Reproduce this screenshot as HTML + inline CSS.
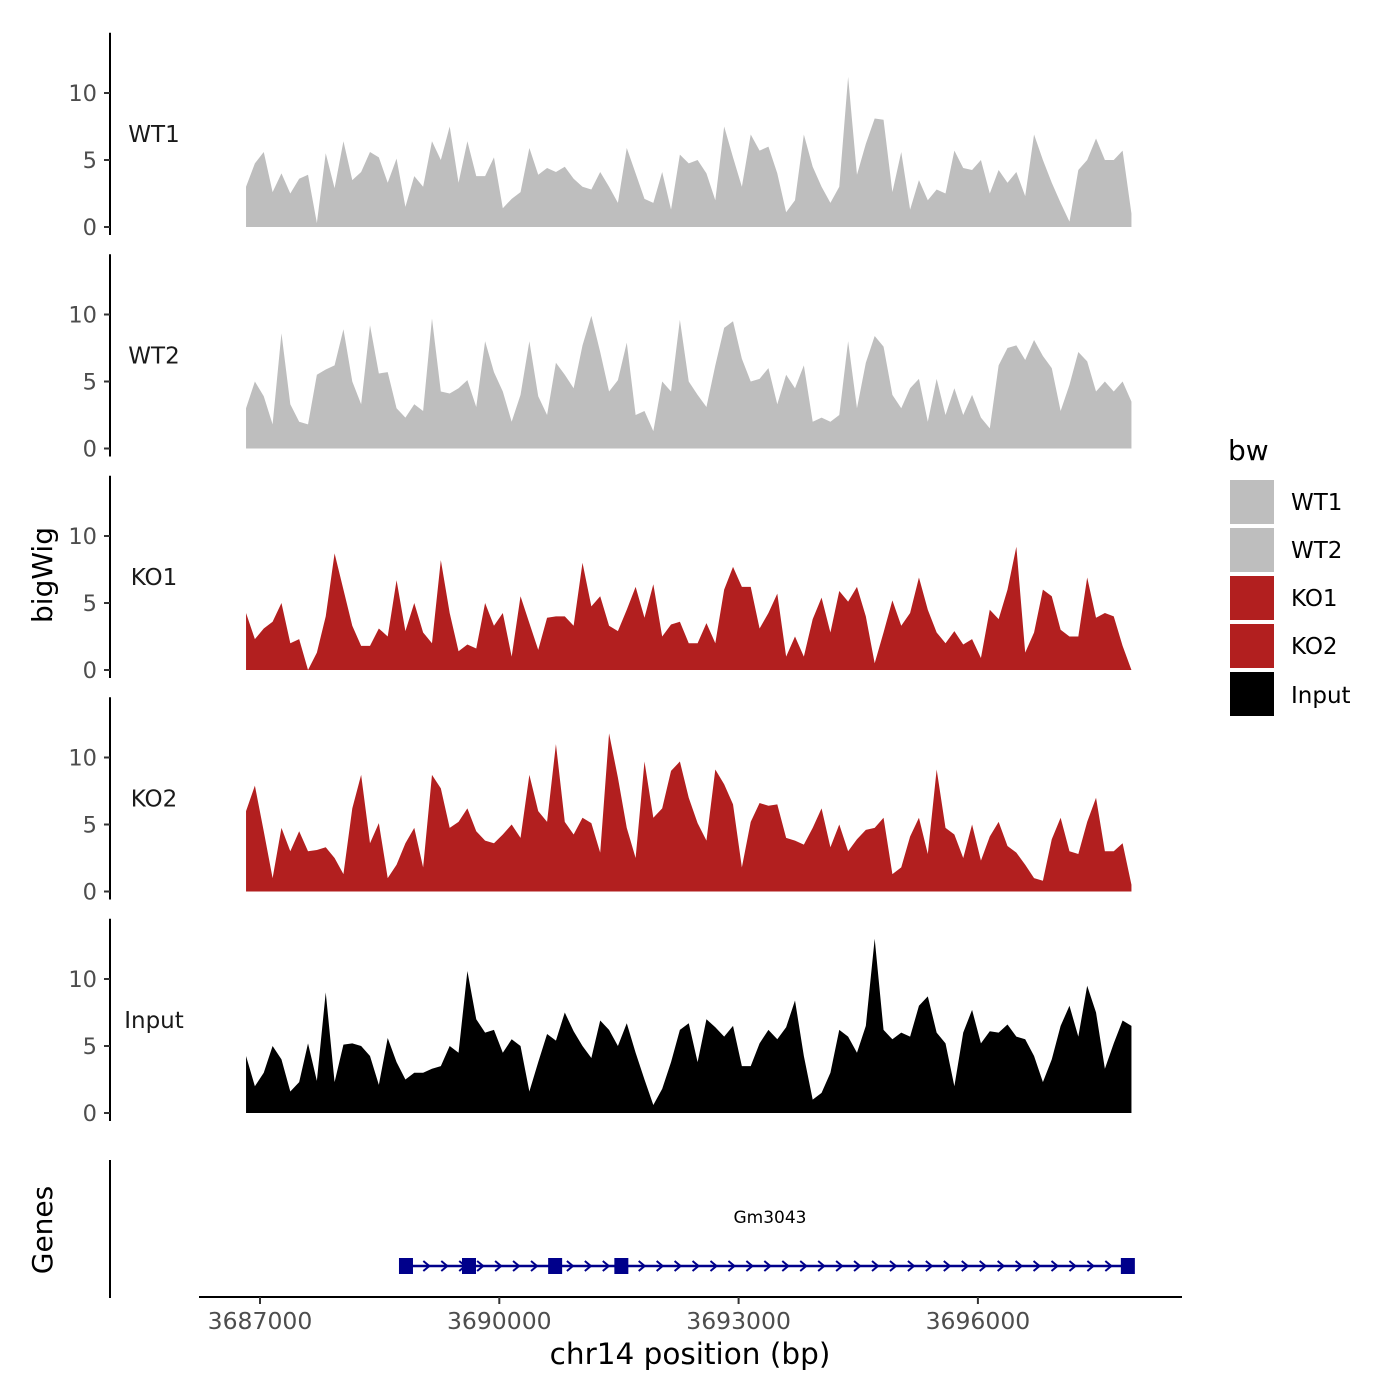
<!DOCTYPE html>
<html><head><meta charset="utf-8"><style>
html,body{margin:0;padding:0;background:#fff;}
svg{display:block;font-family:"DejaVu Sans","Liberation Sans",sans-serif;}
</style></head><body>
<svg id="chart" width="1400" height="1400" viewBox="0 0 1400 1400" xmlns="http://www.w3.org/2000/svg">
<rect width="1400" height="1400" fill="#fff"/>
<g id="tracks"></g>
<g id="genes"></g>
<text x="52" y="575" font-size="28" fill="#000" text-anchor="middle" transform="rotate(-90 52 575)">bigWig</text>
<text x="52" y="1230" font-size="28" fill="#000" text-anchor="middle" transform="rotate(-90 52 1230)">Genes</text>
<text x="690" y="1364" font-size="29.5" fill="#000" text-anchor="middle">chr14 position (bp)</text>
<g>
<text x="1228" y="460" font-size="28" fill="#000">bw</text>
<g><rect x="1230" y="480" width="44" height="44" fill="#bebebe"/><text x="1291" y="510" font-size="23">WT1</text></g>
<g><rect x="1230" y="528" width="44" height="44" fill="#bebebe"/><text x="1291" y="558" font-size="23">WT2</text></g>
<g><rect x="1230" y="576" width="44" height="44" fill="#b21f1f"/><text x="1291" y="606" font-size="23">KO1</text></g>
<g><rect x="1230" y="624" width="44" height="44" fill="#b21f1f"/><text x="1291" y="654" font-size="23">KO2</text></g>
<g><rect x="1230" y="672" width="44" height="44" fill="#000"/><text x="1291" y="703" font-size="23">Input</text></g>
</g>
</svg>
<script>
const trackNames = ["WT1","WT2","KO1","KO2","Input"];
const trackColors = ["#bebebe","#bebebe","#b21f1f","#b21f1f","#000000"];
const binStart = 3686825;
const binSize = 111;
const yTicks = [0,5,10];
const xTicks = [3687000,3690000,3693000,3696000];
const xTickLabels = ["3687000","3690000","3693000","3696000"];
const wt1 = [3.0,4.75,5.6,2.6,4.0,2.5,3.6,3.9,0.3,5.5,2.9,6.4,3.5,4.1,5.6,5.2,3.3,5.1,1.5,3.8,3.0,6.4,5.0,7.5,3.3,6.4,3.8,3.8,5.2,1.4,2.1,2.6,5.9,3.9,4.4,4.1,4.5,3.6,3.0,2.8,4.1,3.0,1.8,5.9,4.0,2.1,1.8,4.1,1.3,5.4,4.75,
5.0,4.0,2.0,7.5,5.2,3.0,6.9,5.7,6.0,4.0,1.1,2.0,6.9,4.5,3.0,1.8,3.0,11.2,3.9,6.2,8.1,8.0,2.6,5.6,1.3,3.5,2.0,2.8,2.5,5.7,4.4,4.25,5.0,2.5,4.25,3.3,4.1,2.3,6.9,5.0,3.3,1.8,0.4,4.25,5.0,6.6,5.0,5.0,5.7,1.0];
const wt2 = [3.0,5.0,3.9,1.8,8.6,3.3,2.0,1.8,5.5,5.9,6.2,8.9,5.0,3.3,9.2,5.6,5.7,3.0,2.3,3.3,2.8,9.7,4.25,4.1,4.5,5.1,3.1,8.0,5.7,4.25,2.0,4.0,8.0,3.9,2.5,6.4,5.5,4.5,7.7,9.9,7.2,4.25,5.1,7.9,2.5,2.8,1.3,5.0,4.25,9.6,5.0,
4.0,3.1,6.2,9.0,9.5,6.7,5.0,5.2,6.0,3.3,5.5,4.5,6.2,2.0,2.3,2.0,2.5,8.0,3.0,6.4,8.4,7.6,4.0,3.0,4.5,5.2,2.0,5.2,2.5,4.5,2.5,4.0,2.3,1.5,6.2,7.5,7.7,6.6,8.1,6.9,6.0,2.8,4.75,7.2,6.5,4.25,5.0,4.25,5.0,3.5];
const ko1 = [4.25,2.3,3.1,3.6,5.0,2.0,2.3,0.0,1.3,4.0,8.7,6.0,3.3,1.8,1.8,3.1,2.5,6.7,2.9,5.0,2.8,2.0,8.2,4.25,1.4,1.9,1.6,5.0,3.3,4.25,1.0,5.5,3.5,1.5,3.9,4.0,4.0,3.3,8.0,4.75,5.5,3.3,2.9,4.5,6.2,3.9,6.4,2.5,3.4,3.6,2.0,
2.0,3.5,2.0,6.0,7.7,6.2,6.2,3.1,4.25,5.7,1.0,2.5,1.0,3.8,5.4,2.8,5.9,5.1,6.2,4.0,0.5,2.8,5.2,3.3,4.25,6.9,4.5,2.8,2.0,2.9,1.9,2.3,0.9,4.5,3.8,6.0,9.2,1.3,2.8,6.0,5.5,3.0,2.5,2.5,6.9,3.9,4.25,4.0,1.8,0.0];
const ko2 = [6.0,7.9,4.5,1.0,4.75,3.0,4.5,3.0,3.1,3.3,2.5,1.3,6.2,8.7,3.6,5.1,1.0,2.0,3.6,4.75,1.8,8.7,7.7,4.75,5.2,6.2,4.5,3.8,3.6,4.25,5.0,4.0,8.7,6.0,5.2,11.0,5.2,4.25,5.5,5.1,2.9,11.8,8.5,4.75,2.5,9.7,5.5,6.2,9.0,9.7,7.0,
5.1,3.8,9.1,8.0,6.5,1.8,5.2,6.6,6.4,6.5,4.0,3.8,3.5,4.75,6.2,3.3,5.0,3.0,3.9,4.6,4.75,5.5,1.3,1.8,4.1,5.5,2.8,9.1,4.75,4.25,2.5,5.0,2.3,4.1,5.2,3.4,2.9,2.0,1.0,0.8,3.9,5.5,3.0,2.8,5.2,7.0,3.0,3.0,3.6,0.5];
const inputTrack = [4.25,2.0,3.0,5.0,4.0,1.6,2.3,5.2,2.4,9.0,2.3,5.1,5.2,5.0,4.25,2.1,5.6,3.8,2.5,3.0,3.0,3.3,3.5,5.0,4.5,10.6,7.0,6.0,6.2,4.5,5.5,5.0,1.6,3.8,5.9,5.4,7.5,6.1,5.0,4.1,6.9,6.2,5.0,6.7,4.5,2.5,0.6,1.8,3.8,6.2,6.7,
3.8,7.0,6.4,5.7,6.5,3.5,3.5,5.2,6.2,5.5,6.4,8.4,4.25,1.0,1.5,3.0,6.2,5.7,4.5,6.5,13.0,6.2,5.5,6.0,5.7,8.0,8.7,6.0,5.2,2.0,6.0,7.7,5.2,6.1,6.0,6.6,5.7,5.5,4.25,2.3,4.0,6.5,8.0,5.7,9.5,7.5,3.3,5.2,6.9,6.5];
const trackValues = [wt1,wt2,ko1,ko2,inputTrack];
const geneName = "Gm3043";
const geneStart = 3688800;
const geneEnd = 3697950;
const exonStarts = [3688830,3689620,3690700,3691530,3697880];

const NS = "http://www.w3.org/2000/svg";
function xScale(bp){ return 260 + (bp - 3687000) * (239.3/3000); }
const pxPerUnit = 13.4;
function yScale(v, k){ return 227 + k*221.5 - v*pxPerUnit; }
function mk(tag, attrs, parent){ const e=document.createElementNS(NS,tag); for(const a in attrs) e.setAttribute(a,attrs[a]); parent.appendChild(e); return e; }

const tracks = document.getElementById('tracks');
trackNames.forEach((name,k)=>{
  const g = mk('g',{},tracks);
  
  
  const vals = trackValues[k];
  let d = 'M' + xScale(binStart).toFixed(2) + ',' + yScale(0,k).toFixed(2);
  vals.forEach((v,i)=>{ d += ' L' + xScale(binStart + i*binSize).toFixed(2) + ',' + yScale(v,k).toFixed(2); });
  d += ' L' + xScale(binStart + (vals.length-1)*binSize).toFixed(2) + ',' + yScale(0,k).toFixed(2) + ' Z';
  const p = mk('path',{d:d, fill:trackColors[k]},g);
  
  
  const top = yScale(14.5,k), bot = yScale(-0.6,k);
  const ax = mk('line',{x1:110,x2:110,y1:top,y2:bot,stroke:'#000','stroke-width':2},g);
  
  
  yTicks.forEach(t=>{
    const y = yScale(t,k);
    mk('line',{x1:104,x2:110,y1:y,y2:y,stroke:'#333','stroke-width':2},g);
    const tl = mk('text',{x:97,y:y+8,'font-size':22.5,fill:'#4d4d4d','text-anchor':'end'},g);
    tl.textContent = t;
    
    
  });
  const lab = mk('text',{x:154,y:yScale(0,k)-85,'font-size':23,fill:'#1a1a1a','text-anchor':'middle'},g);
  lab.textContent = name;
  
  
});

const genes = document.getElementById('genes');
mk('line',{x1:110,x2:110,y1:1160,y2:1298,stroke:'#000','stroke-width':2},genes);
mk('line',{x1:199,x2:1182,y1:1297,y2:1297,stroke:'#000','stroke-width':2},genes);
xTicks.forEach((t,i)=>{
  const x = xScale(t);
  mk('line',{x1:x,x2:x,y1:1297,y2:1304,stroke:'#333','stroke-width':2},genes);
  const tl = mk('text',{x:x,y:1329,'font-size':23.5,fill:'#4d4d4d','text-anchor':'middle'},genes);
  tl.textContent = xTickLabels[i];
  
  
});
const gy = 1266;
const gl = mk('line',{x1:xScale(geneStart),x2:xScale(geneEnd),y1:gy,y2:gy,stroke:'#00008b','stroke-width':2.5},genes);


for(let bp=geneStart+60; bp<geneEnd-60; bp+=225){
  const x = xScale(bp);
  mk('path',{d:`M${x-3},${gy-5} L${x+3},${gy} L${x-3},${gy+5}`,fill:'none',stroke:'#00008b','stroke-width':2},genes);
}
exonStarts.forEach(bp=>{
  const x = xScale(bp);
  const r = mk('rect',{x:x-7,y:gy-8,width:14,height:16,fill:'#00008b'},genes);
  
  
});
const gt = mk('text',{x:770,y:1223,'font-size':17,fill:'#000','text-anchor':'middle'},genes);
gt.textContent = geneName;


</script>
</body></html>
